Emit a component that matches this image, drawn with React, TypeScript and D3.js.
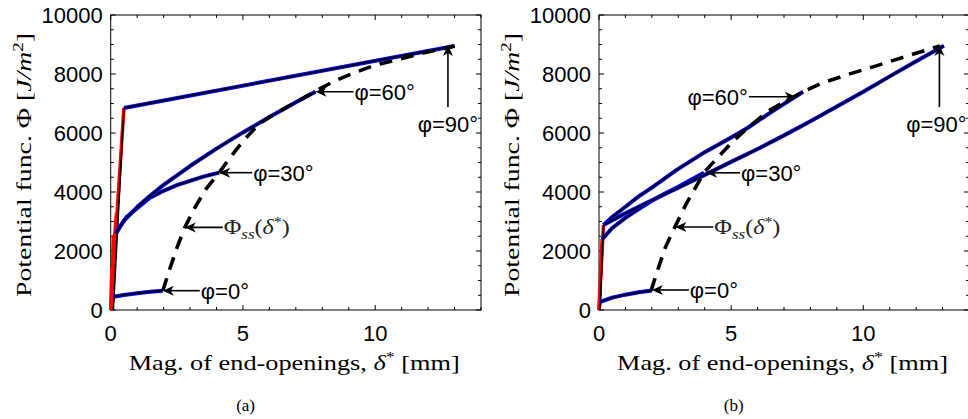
import React from 'react';
import * as d3 from 'd3';

type P = [number, number];

const xTickLabels = [0, 5, 10];
const yTickLabels = [0, 2000, 4000, 6000, 8000, 10000];

// ---------- Panel (a) ----------
const aRedLines: P[][] = [
  [[0, 0], [0.5, 6850]],
  [[0, 0], [0.04, 1400], [0.06, 1100], [0.1, 2500], [0.13, 2300], [0.22, 3300]],
  [[0, 0], [0.11, 450]],
];
const aCore: P[] = [[0.1, 0], [0.5, 6850]];
const aPhi0: P[] = [[0.11, 450], [0.5, 510], [1, 570], [1.5, 620], [1.97, 655]];
const aPhi30: P[] = [[0.2, 2600], [0.34, 2820], [0.6, 3150], [1, 3450], [1.47, 3800], [2, 4040], [2.5, 4230], [3, 4380], [3.5, 4520], [4.1, 4655]];
const aPhi60: P[] = [[0.2, 2600], [0.5, 3030], [1, 3490], [1.5, 3880], [2, 4240], [3, 4880], [4, 5470], [5, 6020], [6, 6540], [7, 7040], [7.74, 7400]];
const aPhi90: P[] = [[0.5, 6850], [13, 8950]];
const aSS: P[] = [[1.97, 655], [2.2, 1300], [2.5, 2100], [2.8, 2800], [3.2, 3500], [3.6, 4100], [4.1, 4655], [4.5, 5150], [5, 5720], [5.6, 6300], [6.3, 6700], [7.1, 7090], [7.74, 7420], [8.5, 7780], [9.2, 8040], [10, 8300], [10.9, 8500], [12, 8750], [13, 8950]];

// ---------- Panel (b) ----------
const bRedLines: P[][] = [
  [[0, 0], [0.17, 2880]],
  [[0, 0], [0.12, 2400]],
  [[0, 0], [0.05, 280]],
];
const bCore: P[] = [[0.04, 0], [0.17, 2880]];
const bPhi0: P[] = [[0.05, 280], [0.5, 420], [1, 520], [1.5, 600], [2, 660]];
const bPhi30: P[] = [[0.12, 2400], [0.5, 2780], [1, 3120], [1.5, 3420], [2, 3700], [2.5, 3950], [3, 4180], [3.5, 4420], [3.97, 4655]];
const bPhi60: P[] = [[0.17, 2880], [0.5, 3150], [1, 3500], [1.5, 3850], [2, 4150], [2.94, 4750], [4, 5350], [5, 5850], [5.6, 6160], [6.5, 6700], [7.72, 7400]];
const bPhi90: P[] = [[0.17, 2880], [1, 3280], [2, 3720], [3, 4150], [4, 4580], [5, 5020], [6, 5460], [7, 5920], [8, 6400], [9, 6900], [10, 7400], [11, 7920], [12, 8430], [13.05, 8960]];
const bSS: P[] = [[1.97, 655], [2.2, 1300], [2.5, 2100], [2.88, 2830], [3.3, 3600], [3.97, 4655], [4.46, 5140], [5, 5650], [5.6, 6160], [6.5, 6800], [7.72, 7400], [8.4, 7680], [9.4, 7980], [10.4, 8250], [11.9, 8680], [12.9, 8950]];

// annotation labels
const phiLabels = ['φ=0°', 'φ=30°', 'φ=60°', 'φ=90°'];

type Annot = { label: string; tip: P; dir: 'left' | 'right' | 'up'; len: number; shift?: number };

const aAnnots: Annot[] = [
  { label: phiLabels[2], tip: [7.74, 7400], dir: 'left', len: 38 },
  { label: phiLabels[3], tip: [12.75, 8980], dir: 'up', len: 62 },
  { label: phiLabels[1], tip: [4.1, 4655], dir: 'left', len: 33 },
  { label: 'ss', tip: [2.8, 2800], dir: 'left', len: 38 },
  { label: phiLabels[0], tip: [1.97, 655], dir: 'left', len: 37 },
];
const bAnnots: Annot[] = [
  { label: phiLabels[2], tip: [7.45, 7230], dir: 'right', len: 47 },
  { label: phiLabels[3], tip: [12.88, 8980], dir: 'up', len: 62, shift: -3 },
  { label: phiLabels[1], tip: [4.05, 4650], dir: 'left', len: 34 },
  { label: 'ss', tip: [2.89, 2814], dir: 'left', len: 38 },
  { label: phiLabels[0], tip: [2.0, 678], dir: 'left', len: 37 },
];

const SANS = "'Liberation Sans', Arial, Helvetica, sans-serif";
const SERIF = "'Liberation Serif', 'DejaVu Serif', 'Noto Serif', 'Times New Roman', Times, serif";

const yScale = d3.scaleLinear().domain([0, 10000]).range([310, 15]);

function Arrow({ tip, dir, len, label, shift = 0 }: { tip: [number, number]; dir: string; len: number; label: string; shift?: number }) {
  const [tx, ty] = tip;
  let tail: [number, number];
  let rot = 0;
  if (dir === 'left') { tail = [tx + len, ty]; rot = 0; }
  else if (dir === 'right') { tail = [tx - len, ty]; rot = 180; }
  else { tail = [tx, ty + len]; rot = 90; }
  const head = 'M0,0 L11,-5 L8,0 L11,5 Z';
  let text: React.ReactNode;
  if (label === 'ss') {
    text = (
      <text x={tail[0] + 1} y={tail[1] + 7} fontFamily={SERIF} fontSize={21} fill="#222" textLength={66} lengthAdjust="spacingAndGlyphs">
        Φ<tspan fontStyle="italic" fontSize={15} dy={5}>ss</tspan><tspan dy={-5}>(</tspan><tspan fontStyle="italic">δ</tspan><tspan fontSize={14} dy={-7}>*</tspan><tspan dy={7}>)</tspan>
      </text>
    );
  } else if (dir === 'left') {
    text = <text x={tail[0] + 1} y={tail[1] + 8} fontFamily={SANS} fontSize={22}>{label}</text>;
  } else if (dir === 'right') {
    text = <text x={tail[0] - 1} y={tail[1] + 8} textAnchor="end" fontFamily={SANS} fontSize={22}>{label}</text>;
  } else {
    text = <text x={tail[0] + shift} y={tail[1] + 25} textAnchor="middle" fontFamily={SANS} fontSize={22}>{label}</text>;
  }
  return (
    <g>
      <line x1={tail[0]} y1={tail[1]} x2={tx + (dir === 'left' ? 6 : dir === 'right' ? -6 : 0)} y2={ty + (dir === 'up' ? 6 : 0)} stroke="#000" strokeWidth={1.6} />
      <path d={head} transform={`translate(${tx},${ty}) rotate(${rot})`} fill="#000" />
      {text}
    </g>
  );
}

function Panel({ x0, x1, reds, core, curves, ss, annots, yLabelX, tag }: any) {
  const xScale = d3.scaleLinear().domain([0, 14]).range([x0, x1]);
  const line = d3.line<P>().x(d => xScale(d[0])).y(d => yScale(d[1]));
  const top = yScale(10000), bottom = yScale(0);
  const xMinor = d3.range(0, 15, 1);
  const yMinor = d3.range(0, 10001, 500);
  return (
    <g>
      {xMinor.map(v => {
        const major = v % 5 === 0;
        const l = major ? 5 : 3;
        const x = xScale(v);
        return (
          <g key={'xt' + v}>
            <line x1={x} x2={x} y1={bottom} y2={bottom - l} stroke="#000" strokeWidth={1} />
            <line x1={x} x2={x} y1={top} y2={top + l} stroke="#000" strokeWidth={1} />
          </g>
        );
      })}
      {yMinor.map(v => {
        const major = v % 2000 === 0;
        const l = major ? 5 : 3;
        const y = yScale(v);
        return (
          <g key={'yt' + v}>
            <line x1={x0} x2={x0 + l} y1={y} y2={y} stroke="#000" strokeWidth={1} />
            <line x1={x1} x2={x1 - l} y1={y} y2={y} stroke="#000" strokeWidth={1} />
          </g>
        );
      })}
      <rect x={x0} y={top} width={x1 - x0} height={bottom - top} fill="none" stroke="#000" strokeWidth={1} />
      {xTickLabels.map(v => (
        <text key={'xl' + v} x={xScale(v)} y={341} textAnchor="middle" fontFamily={SANS} fontSize={22}>{v}</text>
      ))}
      {yTickLabels.map(v => (
        <text key={'yl' + v} x={x0 - 8} y={yScale(v) + 8} textAnchor="end" fontFamily={SANS} fontSize={22}>{v}</text>
      ))}
      <text x={x0 + 18} y={370} fontFamily={SERIF} fontSize={22} textLength={331} lengthAdjust="spacingAndGlyphs">
        Mag. of end-openings, <tspan fontStyle="italic">δ</tspan><tspan fontSize={15} dy={-8}>*</tspan><tspan dy={8}> [mm]</tspan>
      </text>
      <text transform={`translate(${yLabelX},297) rotate(-90)`} fontFamily={SERIF} fontSize={22} textLength={264} lengthAdjust="spacingAndGlyphs">
        Potential func. Φ [<tspan fontStyle="italic">J/m</tspan><tspan fontSize={15} dy={-8}>2</tspan><tspan dy={8}>]</tspan>
      </text>
      <text x={xScale(5.1)} y={411} textAnchor="middle" fontFamily={SERIF} fontSize={17}>{tag}</text>
      {reds.map((r: P[], i: number) => (
        <path key={'r' + i} d={line(r) || ''} fill="none" stroke="#ff0000" strokeWidth={3.5} strokeLinejoin="round" />
      ))}
      <path d={line(core) || ''} fill="none" stroke="#000" strokeWidth={1.6} />
      {curves.map((c: P[], i: number) => (
        <g key={'c' + i}>
          <path d={line(c) || ''} fill="none" stroke="#0000ff" strokeWidth={4} strokeLinejoin="round" />
          <path d={line(c) || ''} fill="none" stroke="#000" strokeWidth={1.8} strokeLinejoin="round" />
        </g>
      ))}
      <path d={line(ss) || ''} fill="none" stroke="#000" strokeWidth={3.6} strokeDasharray="13,9" />
      {annots.map((a: Annot, i: number) => (
        <Arrow key={'a' + i} tip={[xScale(a.tip[0]), yScale(a.tip[1])]} dir={a.dir} len={a.len} label={a.label} shift={a.shift} />
      ))}
    </g>
  );
}

export default function App() {
  return (
    <svg width={968} height={419} style={{ position: 'absolute', left: 0, top: 0, background: '#fff' }}>
      <rect x={0} y={0} width={968} height={419} fill="#fff" />
      <Panel x0={110.7} x1={481} reds={aRedLines} core={aCore} curves={[aPhi0, aPhi30, aPhi60, aPhi90]} ss={aSS} annots={aAnnots} yLabelX={31} tag="(a)" />
      <Panel x0={599} x1={969} reds={bRedLines} core={bCore} curves={[bPhi0, bPhi30, bPhi60, bPhi90]} ss={bSS} annots={bAnnots} yLabelX={519} tag="(b)" />
    </svg>
  );
}
